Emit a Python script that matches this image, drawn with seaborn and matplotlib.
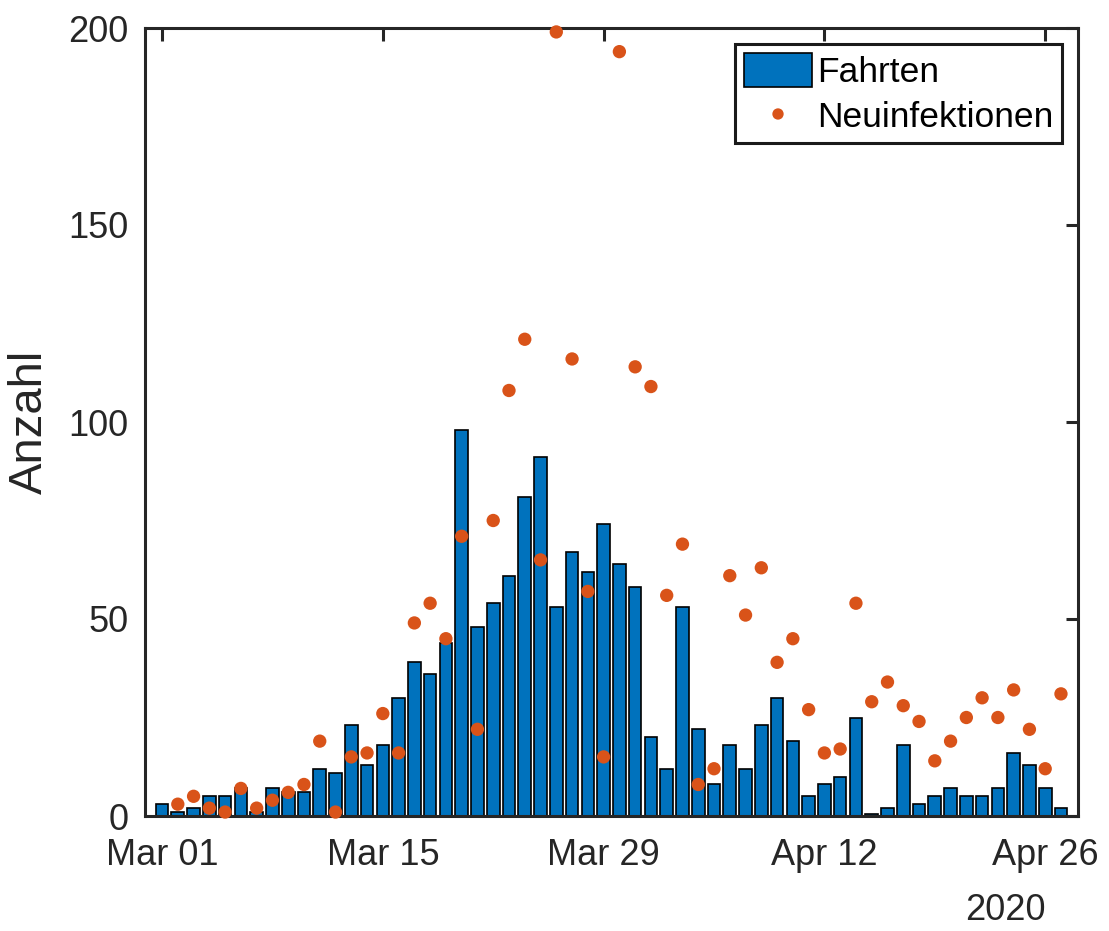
import numpy as np
import pandas as pd
import matplotlib
matplotlib.use("Agg")
import matplotlib.pyplot as plt
import seaborn as sns

# ---- data ----
dates = pd.date_range("2020-03-01", "2020-04-27", freq="D")
fahrten = [3, 1, 2, 5, 5, 7, 1, 7, 6, 6,
           12, 11, 23, 13, 18, 30, 39, 36, 44, 98,
           48, 54, 61, 81, 91, 53, 67, 62, 74, 64,
           58, 20, 12, 53, 22, 8, 18, 12, 23, 30,
           19, 5, 8, 10, 25, 0.5, 2, 18, 3, 5,
           7, 5, 5, 7, 16, 13, 7, 2]
neuinfektionen = [np.nan, 3, 5, 2, 1, 7, 2, 4, 6, 8,
                  19, 1, 15, 16, 26, 16, 49, 54, 45, 71,
                  22, 75, 108, 121, 65, 199, 116, 57, 15, 194,
                  114, 109, 56, 69, 8, 12, 61, 51, 63, 39,
                  45, 27, 16, 17, 54, 29, 34, 28, 24, 14,
                  19, 25, 30, 25, 32, 22, 12, 31]
tick_dates = ["2020-03-01", "2020-03-15", "2020-03-29", "2020-04-12", "2020-04-26"]
tick_labels = ["Mar 01", "Mar 15", "Mar 29", "Apr 12", "Apr 26"]
yticks = [0, 50, 100, 150, 200]

day = np.array((dates - dates[0]).days, dtype=float)
tick_pos = [(pd.Timestamp(d) - dates[0]).days for d in tick_dates]

df = pd.DataFrame({"day": day, "Fahrten": fahrten, "Neuinfektionen": neuinfektionen})

sns.set_style("white")
plt.rcParams["font.family"] = ["Liberation Sans", "DejaVu Sans"]
TXT = "#262626"

fig = plt.figure(figsize=(11.09, 9.31), dpi=100)
ax = fig.add_axes([145 / 1109, 1 - 816 / 931, (1078 - 145) / 1109, (816 - 28) / 931])

sns.barplot(data=df, x="day", y="Fahrten", native_scale=True, color="#0072BD",
            saturation=1, edgecolor="black", linewidth=1.2, width=0.8,
            label="Fahrten", ax=ax, zorder=2)
sns.scatterplot(data=df, x="day", y="Neuinfektionen", color="#D95319", s=92,
                edgecolor="none", label="Neuinfektionen", ax=ax, zorder=3,
                clip_on=False)

ax.set_xlim(-1.08, 58.08)
ax.set_ylim(0, 200)
ax.set_xticks(tick_pos)
ax.set_xticklabels(tick_labels)
ax.set_yticks(yticks)
ax.set_xlabel("")
ax.set_ylabel("Anzahl", fontsize=34, color=TXT, labelpad=12)

for s in ax.spines.values():
    s.set_visible(True)
    s.set_color(TXT)
    s.set_linewidth(2.2)
ax.tick_params(axis="both", direction="in", length=9, width=2.2, color=TXT,
               labelcolor=TXT, labelsize=26, top=True, right=True)
ax.tick_params(axis="x", pad=16)
ax.tick_params(axis="y", pad=12)

handles, labels = ax.get_legend_handles_labels()
order = [labels.index("Fahrten"), labels.index("Neuinfektionen")]
leg = ax.legend([handles[i] for i in order], [labels[i] for i in order],
                loc="upper right", fontsize=25.5, frameon=True, fancybox=False,
                edgecolor="#1a1a1a", framealpha=1, handlelength=1.9,
                handleheight=1.1, handletextpad=0.15, borderpad=0.25,
                labelspacing=0.25, borderaxespad=0.45, markerscale=0.85)
leg.get_frame().set_linewidth(2.2)
for t in leg.get_texts():
    t.set_color("black")

fig.text(1005 / 1109, 1 - 911 / 931, "2020", ha="center", va="center",
         fontsize=26, color=TXT)

fig.savefig("out.png", dpi=100)
